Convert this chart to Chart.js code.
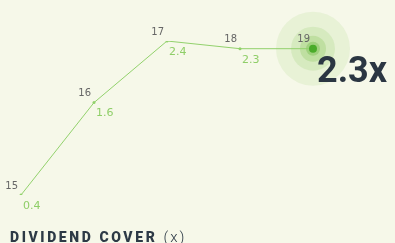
<!DOCTYPE html>
<html lang="en">
<head>
    <meta charset="UTF-8">
    <title>Dividend cover</title>
    <script src="https://cdn.jsdelivr.net/npm/chart.js"></script>
    <style>
        html, body {
            margin: 0;
            padding: 0;
            background: #f6f8e9;
            width: 395px;
            height: 243px;
            overflow: hidden;
        }
        .wrap {
            position: relative;
            width: 395px;
            height: 243px;
        }
        .big {
            position: absolute;
            left: 317px;
            top: 50px;
            font-family: Roboto, sans-serif;
            font-weight: 700;
            font-size: 36px;
            line-height: 40px;
            color: #2b3642;
        }
        .title {
            position: absolute;
            left: 10px;
            top: 229px;
            font-family: Roboto, sans-serif;
            font-size: 14px;
            line-height: 16px;
            color: #2d3a46;
            white-space: nowrap;
        }
        .title b {
            font-weight: 900;
            letter-spacing: 2.6px;
        }
        .title span {
            font-size: 15px;
            font-weight: 300;
            letter-spacing: 2px;
            margin-left: 6px;
        }
    </style>
</head>
<body>
    <div class="wrap">
        <canvas id="coverChart" width="395" height="243"></canvas>
        <div class="big">2.3x</div>
        <div class="title"><b>DIVIDEND COVER</b><span>(x)</span></div>
    </div>

    <script>
        const years = ['15', '16', '17', '18', '19'];
        const cover = [0.4, 1.6, 2.4, 2.3, 2.3];
        const valueLabels = ['0.4', '1.6', '2.4', '2.3', '2.3'];

        // year labels above, values below, halo on the last point
        const pointLabels = {
            id: 'pointLabels',
            beforeDatasetsDraw(chart) {
                const ctx = chart.ctx;
                const meta = chart.getDatasetMeta(0);
                const last = meta.data[meta.data.length - 1];
                const rings = [[37, 'rgba(140, 200, 90, 0.13)'], [22, 'rgba(140, 200, 90, 0.18)'], [13, 'rgba(120, 190, 70, 0.25)'], [7, 'rgba(100, 180, 60, 0.35)']];
                rings.forEach(([r, c]) => {
                    ctx.beginPath();
                    ctx.arc(last.x, last.y, r, 0, Math.PI * 2);
                    ctx.fillStyle = c;
                    ctx.fill();
                });
            },
            afterDatasetsDraw(chart) {
                const ctx = chart.ctx;
                const meta = chart.getDatasetMeta(0);
                ctx.save();
                ctx.textBaseline = 'middle';
                meta.data.forEach((pt, i) => {
                    ctx.font = '10px "DejaVu Sans", sans-serif';
                    ctx.fillStyle = '#666';
                    ctx.textAlign = 'right';
                    ctx.fillText(years[i], pt.x - 3, pt.y - 9);
                    if (i < meta.data.length - 1) {
                        ctx.font = '11px "DejaVu Sans", sans-serif';
                        ctx.fillStyle = '#8fce68';
                        ctx.textAlign = 'left';
                        ctx.fillText(valueLabels[i], pt.x + 2, pt.y + 11);
                    }
                });
                ctx.restore();
            }
        };

        const ctx = document.getElementById('coverChart').getContext('2d');
        new Chart(ctx, {
            type: 'line',
            data: {
                labels: years,
                datasets: [{
                    data: cover,
                    borderColor: '#92d16c',
                    borderWidth: 1,
                    tension: 0,
                    pointRadius: [1.5, 1.5, 1.5, 1.5, 4],
                    pointBackgroundColor: ['#92d16c', '#92d16c', '#92d16c', '#92d16c', '#4aab2a'],
                    pointBorderWidth: 0
                }]
            },
            options: {
                responsive: false,
                animation: false,
                layout: {
                    padding: { left: 21, right: 82, top: 41, bottom: 48 }
                },
                scales: {
                    x: { display: false, offset: false },
                    y: { display: false, min: 0.4, max: 2.4 }
                },
                plugins: {
                    legend: { display: false },
                    tooltip: { enabled: false }
                }
            },
            plugins: [pointLabels]
        });
    </script>
</body>
</html>
